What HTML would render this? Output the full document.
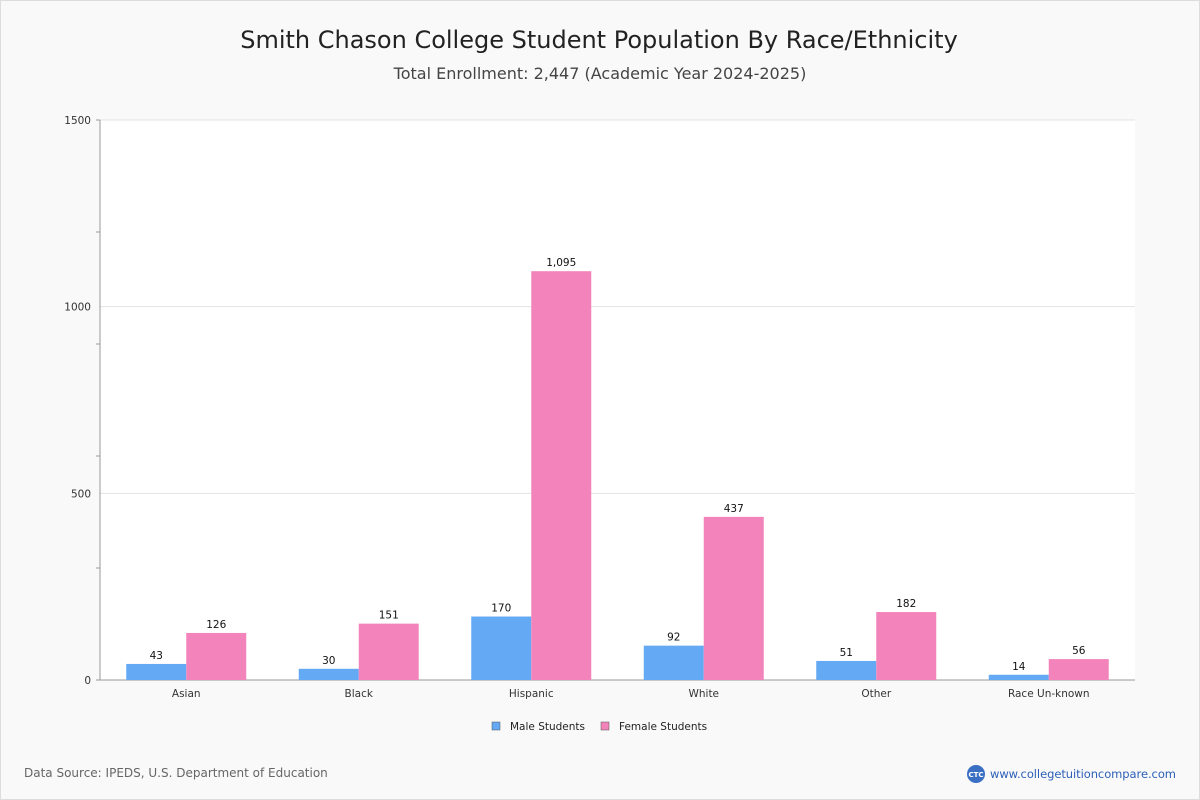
<!DOCTYPE html>
<html><head><meta charset="utf-8"><style>
body{margin:0;width:1200px;height:800px;background:#f9f9f9;font-family:"DejaVu Sans","Liberation Sans",sans-serif;overflow:hidden;position:relative}
#frame{position:absolute;left:0;top:0;width:1198px;height:798px;border:1px solid #ddd;background:#f9f9f9}
#chart{position:absolute;left:0;top:0}
</style></head><body>
<div id="frame"></div>
<svg id="chart" width="1200" height="800"></svg>
<script>
const categories=["Asian","Black","Hispanic","White","Other","Race Un-known"];
const maleValues=[43,30,170,92,51,14];
const femaleValues=[126,151,1095,437,182,56];
const yTicks=[0,500,1000,1500];
const seriesNames=["Male Students","Female Students"];

const svg=document.getElementById('chart');
const NS='http://www.w3.org/2000/svg';
const X0=100,X1=1135,Y0=680,Y1=120,YMAX=1500;
const y=v=>Y0-(v/YMAX)*(Y0-Y1);
const bw=(X1-X0)/categories.length;
const xc=i=>X0+bw*(i+0.5);
function mk(tag,attrs,text){const e=document.createElementNS(NS,tag);for(const k in attrs)e.setAttribute(k,attrs[k]);if(text!==undefined)e.textContent=text;svg.appendChild(e);return e;}

let t=mk('text',{x:599,y:48,'text-anchor':'middle','font-size':24,fill:'#222'},'Smith Chason College Student Population By Race/Ethnicity');


t=mk('text',{x:600,y:79,'text-anchor':'middle','font-size':16,fill:'#444'},'Total Enrollment: 2,447 (Academic Year 2024-2025)');



let p=mk('rect',{x:X0,y:Y1,width:X1-X0,height:Y0-Y1,fill:'#fff'});



yTicks.forEach(v=>{
  const g=mk('line',{x1:X0,x2:X1,y1:y(v),y2:y(v),stroke:'#e3e3e3'});
  
  
  const l=mk('text',{x:91,y:y(v)+4,'text-anchor':'end','font-size':10.5,fill:'#333'},String(v));
  
  
});
for(let v=0;v<=YMAX;v+=300){
  const tk=mk('line',{x1:96,x2:X0,y1:y(v),y2:y(v),stroke:'#999'});
  
  
}
let ax=mk('line',{x1:X0,x2:X0,y1:Y1,y2:Y0,stroke:'#999'});


ax=mk('line',{x1:X0,x2:X1,y1:Y0,y2:Y0,stroke:'#999'});



const barW=60;
categories.forEach((c,i)=>{
  const cx=xc(i);
  [[maleValues,'#63a9f3',cx-barW],[femaleValues,'#f283bb',cx]].forEach(([arr,col,bx],s)=>{
    const v=arr[i];
    const r=mk('rect',{x:bx,y:y(v),width:barW,height:Y0-y(v),fill:col});
    
    
    const lb=mk('text',{x:bx+barW/2,y:y(v)-5,'text-anchor':'middle','font-size':10.5,fill:'#111'},v.toLocaleString('en-US'));
    
    
  });
  const xl=mk('text',{x:cx,y:697,'text-anchor':'middle','font-size':10.5,fill:'#333'},c);
  
  
});

[[seriesNames[0],'#63a9f3',492],[seriesNames[1],'#f283bb',601]].forEach(([n,col,lx])=>{
  const sw=mk('rect',{x:lx,y:722,width:8,height:8,fill:col,stroke:'#555','stroke-width':0.5});
  
  
  const lt=mk('text',{x:lx+18,y:730,'font-size':10.5,fill:'#222'},n);
  
  
});

t=mk('text',{x:24,y:777,'font-size':12,fill:'#666'},'Data Source: IPEDS, U.S. Department of Education');


const lc=mk('circle',{cx:976,cy:774,r:9,fill:'#3a6fc4'});


t=mk('text',{x:976,y:777,'text-anchor':'middle','font-size':7,fill:'#fff','font-weight':'bold'},'CTC');


t=mk('text',{x:990,y:778,'font-size':11.5,fill:'#2c5fb8','textLength':186},'www.collegetuitioncompare.com');


</script>
</body></html>
